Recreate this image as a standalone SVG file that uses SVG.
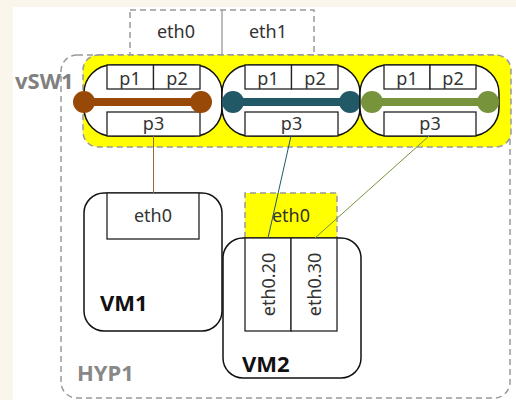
<svg xmlns="http://www.w3.org/2000/svg" width="516" height="400" viewBox="0 0 516 400">
<style>
.dash{fill:none;stroke:#999;stroke-width:1.5;stroke-dasharray:6 4}
.box{fill:#fff;stroke:#222;stroke-width:1.3}
.pill{fill:#fff;stroke:#111;stroke-width:1.5}
.t{font-family:"Noto Sans","DejaVu Sans",sans-serif;font-size:18px;fill:#333;text-anchor:middle}
.lbl{font-family:"Noto Sans","Liberation Sans",sans-serif;font-weight:bold;font-size:22px}
</style>
<rect x="0" y="0" width="516" height="400" fill="#FAF6EB"/>
<rect x="13" y="7" width="503" height="393" fill="#fff"/>
<g id="hyp1">
<rect class="dash" x="61" y="55" width="449" height="343" rx="16"/>
<text class="lbl" x="77" y="381" fill="#888">HYP1</text>
</g>
<g id="host-eth">
<rect class="dash" x="130" y="10" width="184" height="45"/>
<line x1="222" y1="10" x2="222" y2="55" stroke="#999" stroke-width="1.3"/>
<text class="t" x="176" y="38">eth0</text>
<text class="t" x="268" y="38">eth1</text>
</g>
<g id="vsw1">
<rect x="83" y="55" width="428" height="92" rx="15" fill="#FFFF00" stroke="#999" stroke-width="1.5" stroke-dasharray="6 4"/>
<text class="lbl" x="15" y="89" fill="#808080">vSW1</text>
</g>
<g id="br1">
<rect class="pill" x="84" y="65" width="138" height="71" rx="28"/>
<rect class="box" x="107" y="65" width="46.5" height="24"/>
<rect class="box" x="153.5" y="65" width="46.5" height="24"/>
<rect class="box" x="107" y="112" width="93" height="24"/>
<text class="t" x="130" y="85">p1</text>
<text class="t" x="177" y="85">p2</text>
<text class="t" x="153.5" y="130">p3</text>
<line x1="84" y1="102" x2="201" y2="102" stroke="#984807" stroke-width="8"/>
<circle cx="84" cy="102" r="11" fill="#984807"/>
<circle cx="201" cy="102" r="11" fill="#984807"/>
</g>
<g id="br2">
<rect class="pill" x="222" y="65" width="138" height="71" rx="28"/>
<rect class="box" x="245" y="65" width="46.5" height="24"/>
<rect class="box" x="291.5" y="65" width="46.5" height="24"/>
<rect class="box" x="245" y="112" width="93" height="24"/>
<text class="t" x="268" y="85">p1</text>
<text class="t" x="315" y="85">p2</text>
<text class="t" x="291.5" y="130">p3</text>
<line x1="233" y1="102" x2="350" y2="102" stroke="#215967" stroke-width="8"/>
<circle cx="233" cy="102" r="11" fill="#215967"/>
<circle cx="350" cy="102" r="11" fill="#215967"/>
</g>
<g id="br3">
<rect class="pill" x="360" y="65" width="139" height="71" rx="28"/>
<rect class="box" x="384" y="65" width="46" height="24"/>
<rect class="box" x="430" y="65" width="46" height="24"/>
<rect class="box" x="384" y="112" width="92" height="24"/>
<text class="t" x="407" y="85">p1</text>
<text class="t" x="453" y="85">p2</text>
<text class="t" x="430" y="130">p3</text>
<line x1="372" y1="102" x2="488" y2="102" stroke="#77933C" stroke-width="8"/>
<circle cx="372" cy="102" r="11" fill="#77933C"/>
<circle cx="488" cy="102" r="11" fill="#77933C"/>
</g>
<g id="vm1">
<rect class="pill" x="84" y="193" width="138" height="138" rx="20"/>
<rect class="box" x="107" y="193" width="92" height="46"/>
<text class="t" x="153" y="222">eth0</text>
<text class="lbl" x="100" y="311" fill="#111">VM1</text>
</g>
<g id="vm2">
<rect x="245" y="193" width="92" height="45" fill="#FFFF00"/>
<path d="M245 238 V193 H337 V238" class="dash"/>
<text class="t" x="291" y="222" fill="#888">eth0</text>
<rect class="pill" x="223" y="238" width="138" height="140" rx="20"/>
<rect class="box" x="245" y="238" width="46" height="93"/>
<rect class="box" x="291" y="238" width="46" height="93"/>
<text class="t" transform="translate(274.5 284.5) rotate(-90)">eth0.20</text>
<text class="t" transform="translate(320.5 284.5) rotate(-90)">eth0.30</text>
<text class="lbl" x="242" y="372" fill="#111">VM2</text>
</g>
<g id="connectors" fill="none" stroke-width="1">
<line x1="153.5" y1="136" x2="153.5" y2="193" stroke="#A0643A"/>
<line x1="291" y1="136" x2="268" y2="238" stroke="#215967"/>
<line x1="429" y1="136" x2="315" y2="238" stroke="#77933C"/>
</g>
</svg>
